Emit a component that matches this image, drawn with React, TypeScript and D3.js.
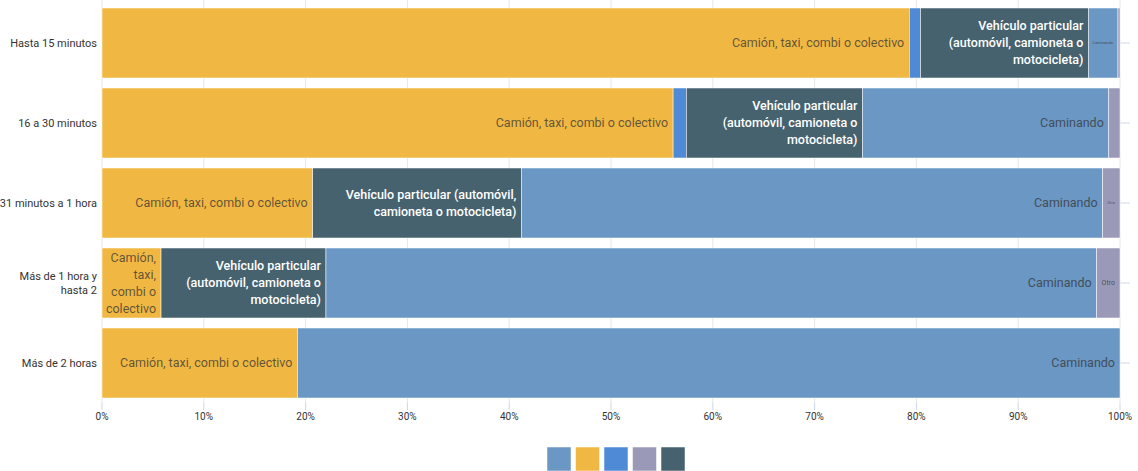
import React from "react";
import * as d3 from "d3";

// data
const categories = ["Hasta 15 minutos", "16 a 30 minutos", "31 minutos a 1 hora", "Más de 1 hora y hasta 2", "Más de 2 horas"];
const stackKeys = ["camion", "bicicleta", "vehiculo", "caminando", "otro"];
const seriesNames: Record<string, string> = {
  camion: "Camión, taxi, combi o colectivo",
  bicicleta: "Bicicleta",
  vehiculo: "Vehículo particular (automóvil, camioneta o motocicleta)",
  caminando: "Caminando",
  otro: "Otro",
};
const camion = [79.3, 56.1, 20.7, 5.8, 19.2];
const bicicleta = [1.1, 1.3, 0, 0, 0];
const vehiculo = [16.5, 17.3, 20.5, 16.2, 0];
const caminando = [2.9, 24.2, 57.1, 75.7, 80.8];
const otro = [0.2, 1.1, 1.7, 2.3, 0];
const legendOrder = ["caminando", "camion", "bicicleta", "otro", "vehiculo"];
const xTicks = [0, 10, 20, 30, 40, 50, 60, 70, 80, 90, 100];

const colors: Record<string, string> = {
  caminando: "#6a97c4",
  camion: "#f0b843",
  bicicleta: "#4f8ad6",
  otro: "#9a9ab8",
  vehiculo: "#46626f",
};

const FONT = "Roboto, sans-serif";

let ctx: CanvasRenderingContext2D | null = null;
function measure(text: string, size: number, weight = "normal") {
  if (!ctx) ctx = document.createElement("canvas").getContext("2d");
  ctx!.font = `${weight} ${size}px ${FONT}`;
  return ctx!.measureText(text).width;
}

function wrap(text: string, maxW: number, size: number, weight = "normal") {
  const words = text.split(" ");
  const lines: string[] = [];
  let cur = "";
  words.forEach((w) => {
    const t = cur ? cur + " " + w : w;
    if (cur && measure(t, size, weight) > maxW) {
      lines.push(cur);
      cur = w;
    } else cur = t;
  });
  if (cur) lines.push(cur);
  return lines;
}

export default function App() {
  const width = 1138, height = 471;
  const margin = { left: 102, right: 18, top: 3, bottom: 68 };

  const rows = categories.map((c, i) => ({
    cat: c,
    camion: camion[i],
    bicicleta: bicicleta[i],
    vehiculo: vehiculo[i],
    caminando: caminando[i],
    otro: otro[i],
  }));

  const x = d3.scaleLinear().domain([0, 100]).range([margin.left, width - margin.right]);
  const y = d3.scaleBand().domain(categories).range([margin.top, height - margin.bottom]).paddingInner(0.125).paddingOuter(0.0625);
  const stacked = d3.stack<any>().keys(stackKeys)(rows);
  const plotBottom = height - margin.bottom;

  const pad = 5;

  return (
    <svg width={width} height={height} style={{ position: "absolute", left: 0, top: 0, fontFamily: FONT }}>
      {/* grid */}
      {xTicks.map((t) => (
        <g key={t}>
          <line x1={x(t)} x2={x(t)} y1={0} y2={plotBottom} stroke="#e6e6e6" />
          <line x1={x(t)} x2={x(t)} y1={plotBottom} y2={plotBottom + 7} stroke="#ccd6eb" />
          <text x={x(t)} y={plotBottom + 17} textAnchor="middle" fontSize={10} fill="#333">{t}%</text>
        </g>
      ))}
      {/* y ticks on the right */}
      {categories.map((c) => (
        <line key={c} x1={x(100)} x2={x(100) + 10} y1={y(c)! + y.bandwidth() / 2} y2={y(c)! + y.bandwidth() / 2} stroke="#ccd6eb" />
      ))}
      {/* y labels */}
      {categories.map((c) => {
        const lines = wrap(c, 98, 11);
        const cy = y(c)! + y.bandwidth() / 2;
        return (
          <text key={c} fontSize={11} fill="#333" textAnchor="end">
            {lines.map((l, i) => (
              <tspan key={i} x={margin.left - 5} y={cy + (i - (lines.length - 1) / 2) * 14} dy="0.35em">{l}</tspan>
            ))}
          </text>
        );
      })}
      {/* bars */}
      {stacked.map((s) => (
        <g key={s.key} fill={colors[s.key]}>
          {s.map((d, i) => (
            <rect key={i} x={x(d[0])} y={y(categories[i])} width={Math.max(0, x(d[1]) - x(d[0]))} height={y.bandwidth()} stroke="#fff" strokeWidth={0.5} />
          ))}
        </g>
      ))}
      {/* data labels */}
      {stacked.map((s) =>
        s.map((d, i) => {
          const w = x(d[1]) - x(d[0]);
          if (w < 15) return null;
          const dark = s.key === "vehiculo";
          const weight = dark ? "500" : "normal";
          const name = seriesNames[s.key];
          const base = 12.5;
          let size = base;
          const avail = w - 2 * pad;
          const lines = wrap(name, avail, size, weight);
          const widest = d3.max(lines, (l) => measure(l, size, weight))!;
          if (widest > avail && lines.length === 1) {
            size = Math.max(4, (size * avail) / widest);
          }
          const cy = y(categories[i])! + y.bandwidth() / 2;
          const lineH = size < base ? size * 1.2 : 17;
          return (
            <text key={s.key + i} fontSize={size} fontWeight={weight} fill={dark ? "#fff" : "#333"} fillOpacity={dark ? 1 : 0.75} textAnchor="end">
              {lines.map((l, j) => (
                <tspan key={j} x={x(d[1]) - pad} y={cy + (j - (lines.length - 1) / 2) * lineH} dy="0.35em">{l}</tspan>
              ))}
            </text>
          );
        })
      )}
      {/* legend */}
      {legendOrder.map((k, i) => (
        <rect key={k} x={547 + i * 28.5} y={447} width={24} height={24} fill={colors[k]} stroke="#fff" strokeWidth={0.5} />
      ))}
    </svg>
  );
}
